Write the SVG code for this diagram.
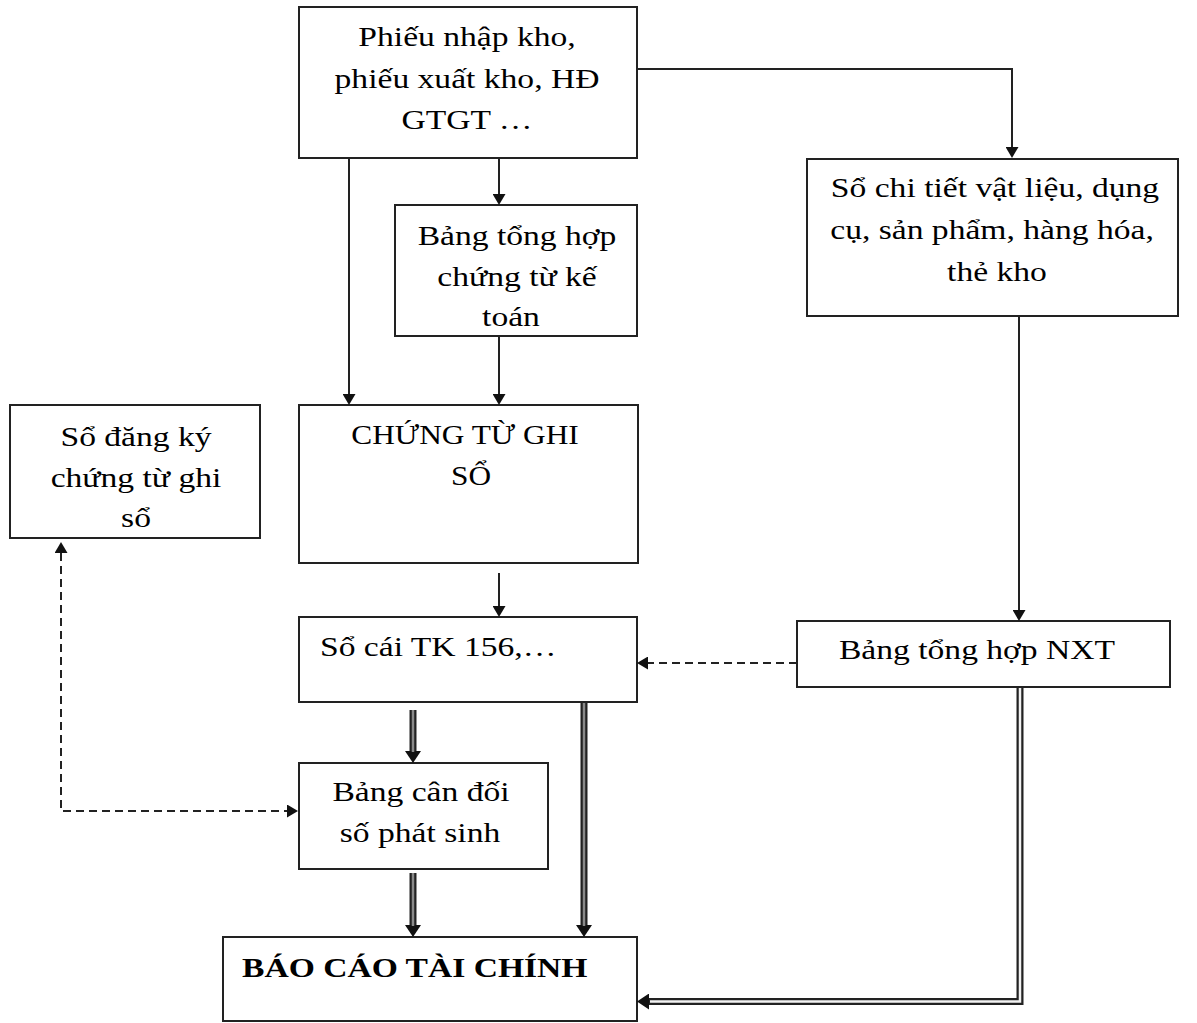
<svg xmlns="http://www.w3.org/2000/svg" width="1197" height="1023" viewBox="0 0 1197 1023">
<defs>
<style>
.box{fill:#fff;stroke:#222;stroke-width:2}
.t{font-family:"Liberation Serif","Times New Roman",serif;font-size:28px;fill:#000}
.c{text-anchor:middle}
.b{font-weight:bold}
.ln{fill:none;stroke:#222;stroke-width:2}
.dash{fill:none;stroke:#222;stroke-width:2;stroke-dasharray:8 5}
.dbl{fill:none;stroke:#222;stroke-width:7;stroke-linejoin:miter}
.dblg{fill:none;stroke:#8a8a8a;stroke-width:2.5}
.dblw{fill:none;stroke:#f2f2f2;stroke-width:2.5;stroke-linejoin:miter}
</style>
<marker id="ah" markerUnits="userSpaceOnUse" viewBox="0 0 11 13" markerWidth="11" markerHeight="13" refX="0" refY="6.5" orient="auto-start-reverse">
<path d="M0,0 L11,6.5 L0,13 z" fill="#111"/>
</marker>
<marker id="ahw" markerUnits="userSpaceOnUse" viewBox="0 0 12 16" markerWidth="12" markerHeight="16" refX="0" refY="8" orient="auto">
<path d="M0,0 L12,8 L0,16 z" fill="#111"/>
</marker>
</defs>
<rect width="1197" height="1023" fill="#fff"/>

<!-- source documents -->
<g id="phieu">
<rect class="box" x="299" y="7" width="338" height="151"/>
<text class="t c" transform="translate(467,46) scale(1.2,1)">Phiếu nhập kho,</text>
<text class="t c" transform="translate(467,88) scale(1.2,1)">phiếu xuất kho, HĐ</text>
<text class="t c" transform="translate(467,129) scale(1.2,1)">GTGT …</text>
</g>

<g id="so-chi-tiet">
<rect class="box" x="807" y="159" width="371" height="157"/>
<text class="t c" transform="translate(995,197) scale(1.2,1)">Sổ chi tiết vật liệu, dụng</text>
<text class="t c" transform="translate(992,239) scale(1.2,1)">cụ, sản phẩm, hàng hóa,</text>
<text class="t c" transform="translate(997,281) scale(1.2,1)">thẻ kho</text>
</g>

<g id="bang-tong-hop-ct">
<rect class="box" x="395" y="205" width="242" height="131"/>
<text class="t c" transform="translate(517,245) scale(1.2,1)">Bảng tổng hợp</text>
<text class="t c" transform="translate(517,286) scale(1.2,1)">chứng từ kế</text>
<text class="t c" transform="translate(511,326) scale(1.2,1)">toán</text>
</g>

<g id="so-dang-ky">
<rect class="box" x="10" y="405" width="250" height="133"/>
<text class="t c" transform="translate(136,446) scale(1.2,1)">Sổ đăng ký</text>
<text class="t c" transform="translate(136,487) scale(1.2,1)">chứng từ ghi</text>
<text class="t c" transform="translate(136,527) scale(1.2,1)">sổ</text>
</g>

<g id="chung-tu-ghi-so">
<rect class="box" x="299" y="405" width="339" height="158"/>
<text class="t c" transform="translate(465,444) scale(1.12,1)">CHỨNG TỪ GHI</text>
<text class="t c" transform="translate(471,485) scale(1.12,1)">SỔ</text>
</g>

<g id="so-cai">
<rect class="box" x="299" y="617" width="338" height="85"/>
<text class="t" transform="translate(320,656) scale(1.2,1)">Sổ cái TK 156,…</text>
</g>

<g id="bang-nxt">
<rect class="box" x="797" y="621" width="373" height="66"/>
<text class="t c" transform="translate(977,659) scale(1.2,1)">Bảng tổng hợp NXT</text>
</g>

<g id="bang-can-doi">
<rect class="box" x="299" y="763" width="249" height="106"/>
<text class="t c" transform="translate(421,801) scale(1.2,1)">Bảng cân đối</text>
<text class="t c" transform="translate(420,842) scale(1.2,1)">số phát sinh</text>
</g>

<g id="bao-cao-tai-chinh">
<rect class="box" x="223" y="937" width="414" height="84"/>
<text class="t b" transform="translate(242,977) scale(1.2,1)">BÁO CÁO TÀI CHÍNH</text>
</g>

<!-- connectors -->
<g id="connectors">
<path class="ln" d="M637,69 H1012 V147" marker-end="url(#ah)"/>
<path class="ln" d="M349,158 V394" marker-end="url(#ah)"/>
<path class="ln" d="M499,158 V194" marker-end="url(#ah)"/>
<path class="ln" d="M499,336 V394" marker-end="url(#ah)"/>
<path class="ln" d="M499,573 V606" marker-end="url(#ah)"/>
<path class="ln" d="M1019,316 V610" marker-end="url(#ah)"/>
<path class="dash" d="M797,663 H648" marker-end="url(#ah)"/>
<path class="dash" d="M61,553 V811 H287" marker-start="url(#ah)" marker-end="url(#ah)"/>

<path class="dbl" d="M413,710 V751" marker-end="url(#ahw)"/>
<path class="dblg" d="M413,710 V752"/>
<path class="dbl" d="M413,873 V925" marker-end="url(#ahw)"/>
<path class="dblg" d="M413,873 V926"/>
<path class="dbl" d="M584,702 V925" marker-end="url(#ahw)"/>
<path class="dblg" d="M584,703 V926"/>
<path class="dbl" d="M1020,687 V1001.5 H649" marker-end="url(#ahw)"/>
<path class="dblw" d="M1020,688 V1001.5 H650"/>
</g>
</svg>
